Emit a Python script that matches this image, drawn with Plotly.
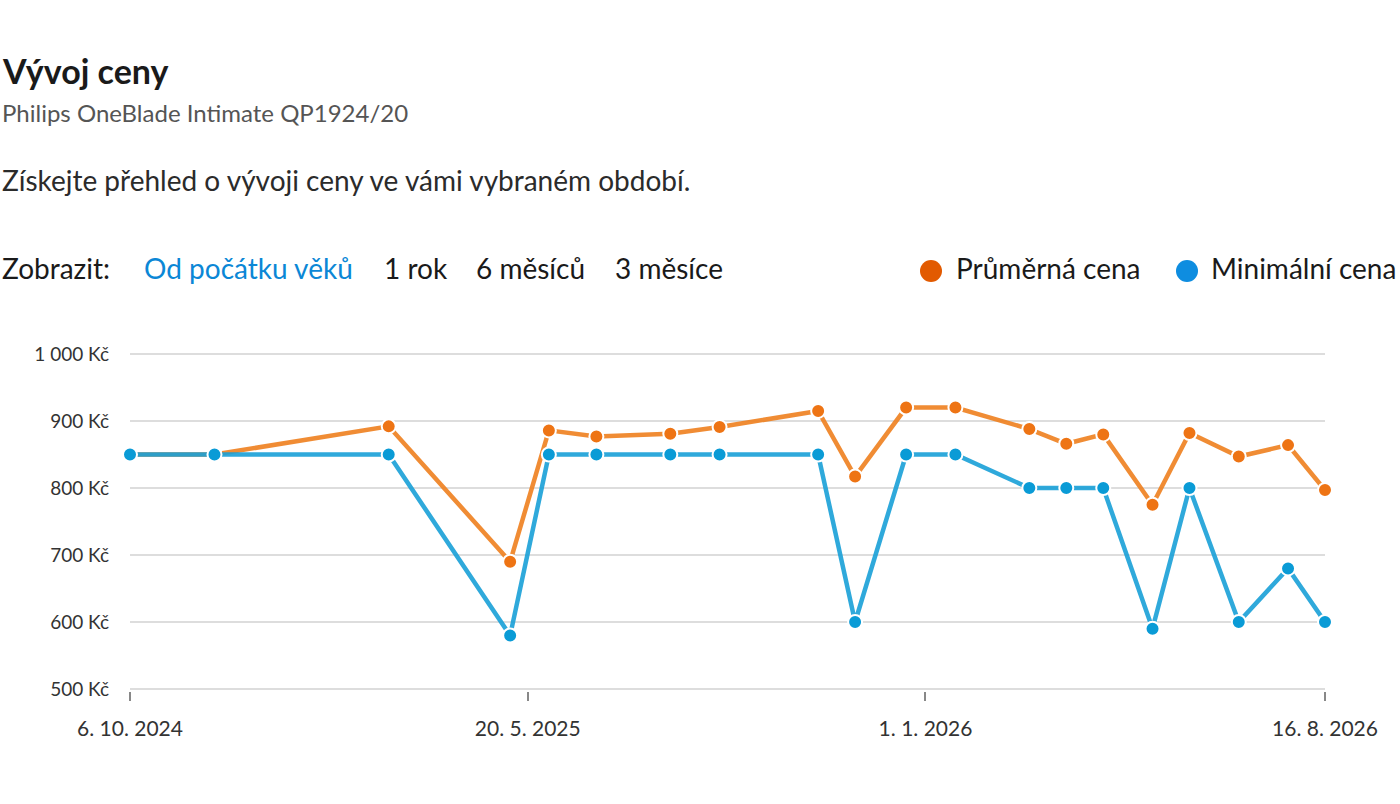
import plotly.graph_objects as go

dates = ["2024-10-06", "2024-11-23", "2025-03-02", "2025-05-10", "2025-06-01",
         "2025-06-28", "2025-08-09", "2025-09-06", "2025-11-01", "2025-11-22",
         "2025-12-21", "2026-01-18", "2026-03-01", "2026-03-22", "2026-04-12",
         "2026-05-10", "2026-05-31", "2026-06-28", "2026-07-26", "2026-08-16"]
avg_price = [850, 850, 892, 690, 886, 877, 881, 891, 915, 817,
             920, 920, 888, 866, 880, 775, 882, 847, 864, 797]
min_price = [850, 850, 850, 580, 850, 850, 850, 850, 850, 600,
             850, 850, 800, 800, 800, 590, 800, 600, 680, 600]

y_ticks = [500, 600, 700, 800, 900, 1000]
y_labels = ["500 Kč", "600 Kč", "700 Kč", "800 Kč", "900 Kč", "1 000 Kč"]
x_ticks = ["2024-10-06", "2025-05-20", "2026-01-01", "2026-08-16"]
x_labels = ["6. 10. 2024", "20. 5. 2025", "1. 1. 2026", "16. 8. 2026"]

FONT = "Lato"
W, H = 1400, 804
L, R, T, B = 130, 75, 352, 113
pw, ph = W - L - R, H - T - B

def px(x):
    return (x - L) / pw

def py(y):
    return (H - B - y) / ph

fig = go.Figure()
fig.add_trace(go.Scatter(
    x=dates, y=avg_price, name="Průměrná cena", mode="lines+markers",
    line=dict(color="rgba(238,128,30,0.9)", width=4.5),
    marker=dict(color="#EE7414", size=14, line=dict(color="white", width=2)),
    cliponaxis=False,
))
fig.add_trace(go.Scatter(
    x=dates, y=min_price, name="Minimální cena", mode="lines+markers",
    line=dict(color="rgba(24,160,215,0.9)", width=4.5),
    marker=dict(color="#0A9BD6", size=14, line=dict(color="white", width=2)),
    cliponaxis=False,
))

ann = []
def text(x, y, s, size, color, bold=False):
    ann.append(dict(x=px(x), y=py(y), xref="paper", yref="paper", text=(f"<b>{s}</b>" if bold else s),
                    showarrow=False, xanchor="left", yanchor="middle",
                    font=dict(family=FONT, size=size, color=color)))

text(0, 70, "Vývoj ceny", 34, "#1a1a1a", bold=True)
text(0, 113, "Philips OneBlade Intimate QP1924/20", 24, "#555555")
text(0, 180, "Získejte přehled o vývoji ceny ve vámi vybraném období.", 28, "#2b2b2b")
text(0, 268, "Zobrazit:", 28, "#1a1a1a")
text(142, 268, "Od počátku věků", 28, "#0B87D6")
text(382, 268, "1 rok", 28, "#1a1a1a")
text(474, 268, "6 měsíců", 28, "#1a1a1a")
text(613, 268, "3 měsíce", 28, "#1a1a1a")
text(954, 268, "Průměrná cena", 28, "#1a1a1a")
text(1209, 268, "Minimální cena", 28, "#1a1a1a")

shapes = []
for cx, col in [(931, "#E25A00"), (1187, "#0E8DE0")]:
    shapes.append(dict(type="circle", xref="paper", yref="paper",
                       xsizemode="pixel", ysizemode="pixel",
                       xanchor=px(cx), yanchor=py(271),
                       x0=-11, x1=11, y0=-11, y1=11,
                       fillcolor=col, line=dict(width=0)))

fig.update_layout(
    width=W, height=H, margin=dict(l=L, r=R, t=T, b=B),
    paper_bgcolor="white", plot_bgcolor="white",
    showlegend=False, annotations=ann, shapes=shapes,
    font=dict(family=FONT, color="#333333"),
    xaxis=dict(type="date", range=["2024-10-06", "2026-08-16"],
               tickvals=x_ticks, ticktext=x_labels, showgrid=False,
               zeroline=False, showline=False, ticks="outside", ticklen=9,
               tickwidth=1.5, tickcolor="#888888", ticklabelstandoff=10,
               tickfont=dict(family=FONT, size=21, color="#333333")),
    yaxis=dict(range=[497, 1003], tickvals=y_ticks, ticktext=y_labels,
               showgrid=True, gridcolor="#dddddd", gridwidth=1.5,
               zeroline=False, showline=False, ticks="", ticklabelstandoff=20,
               tickfont=dict(family=FONT, size=19, color="#333333")),
)

fig.write_html("out.html", config={"displayModeBar": False},
               post_script="document.body.style.margin='0';")
